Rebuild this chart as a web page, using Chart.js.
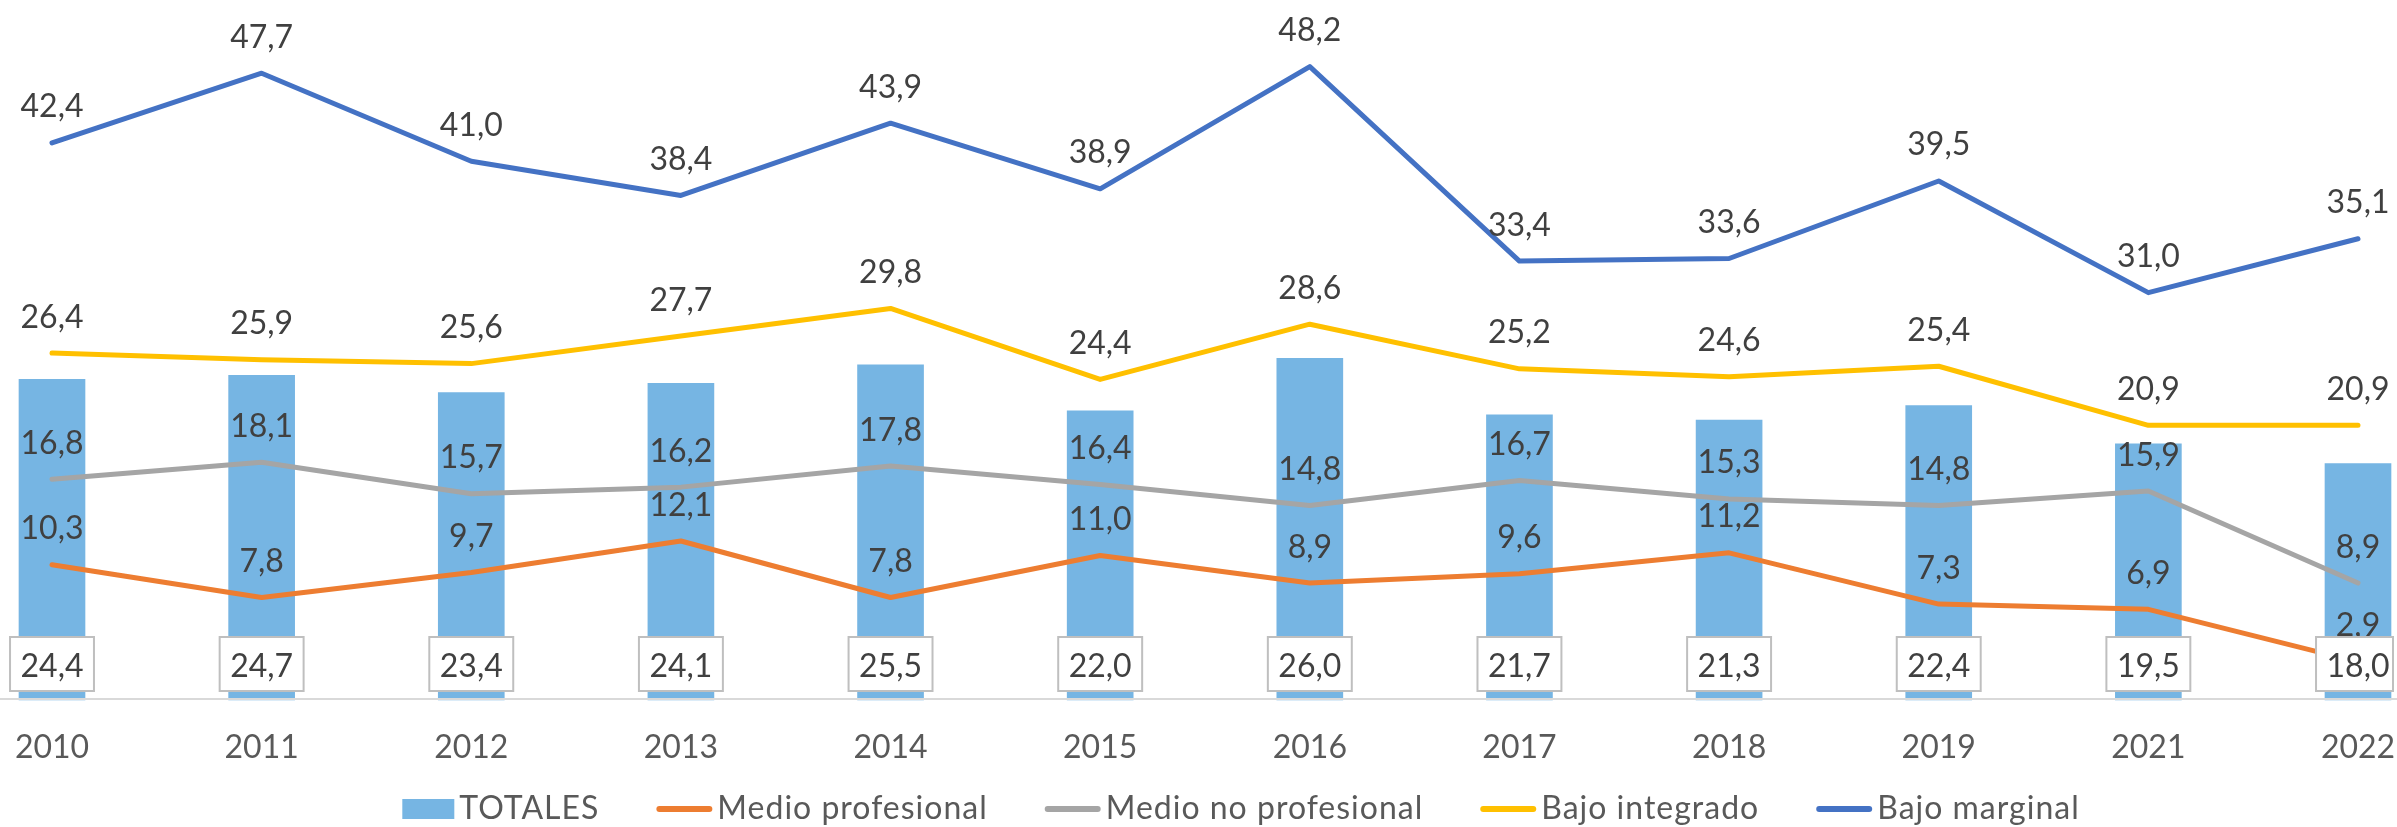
<!DOCTYPE html>
<html><head><meta charset="utf-8">
<script src="https://cdn.jsdelivr.net/npm/chart.js@4/dist/chart.umd.min.js"></script>
<style>html,body{margin:0;padding:0;background:#fff;} canvas{display:block;}</style>
</head><body>
<canvas id="c" width="2397" height="827"></canvas>
<script>
const categories = ['2010','2011','2012','2013','2014','2015','2016','2017','2018','2019','2021','2022'];
const totales = [24.4,24.7,23.4,24.1,25.5,22.0,26.0,21.7,21.3,22.4,19.5,18.0];
const medioProfesional = [10.3,7.8,9.7,12.1,7.8,11.0,8.9,9.6,11.2,7.3,6.9,2.9];
const medioNoProfesional = [16.8,18.1,15.7,16.2,17.8,16.4,14.8,16.7,15.3,14.8,15.9,8.9];
const bajoIntegrado = [26.4,25.9,25.6,27.7,29.8,24.4,28.6,25.2,24.6,25.4,20.9,20.9];
const bajoMarginal = [42.4,47.7,41.0,38.4,43.9,38.9,48.2,33.4,33.6,39.5,31.0,35.1];

const FONT = '32px Lato';
const fmt = v => v.toFixed(1).replace('.', ',');

function lineDs(label, data, color, order) {
  return { type: 'line', label, data, borderColor: color, backgroundColor: color,
    borderWidth: 5, pointRadius: 0, pointHoverRadius: 0, tension: 0, fill: false,
    borderCapStyle: 'round', borderJoinStyle: 'round', order, clip: false };
}

const overlay = {
  id: 'overlay',
  afterDatasetsDraw(chart) {
    const ctx = chart.ctx;
    const xs = chart.scales.x, ys = chart.scales.y;
    const base = ys.getPixelForValue(0);
    ctx.save();
    // category axis line
    ctx.strokeStyle = '#D9D9D9'; ctx.lineWidth = 2;
    ctx.beginPath(); ctx.moveTo(0, base - 1); ctx.lineTo(chart.width, base - 1); ctx.stroke();

    ctx.font = FONT;
    ctx.textAlign = 'center';
    ctx.textBaseline = 'alphabetic';
    // line labels
    chart.data.datasets.forEach((ds, i) => {
      if (ds.type !== 'line') return;
      const meta = chart.getDatasetMeta(i);
      meta.data.forEach((pt, j) => {
        ctx.fillStyle = '#404040';
        ctx.fillText(fmt(ds.data[j]), pt.x, pt.y - 25.5);
      });
    });
    // bar labels in boxes at base
    chart.data.datasets.forEach((ds, i) => {
      if (ds.type !== 'bar') return;
      const meta = chart.getDatasetMeta(i);
      meta.data.forEach((bar, j) => {
        const txt = fmt(ds.data[j]);
        const w = ctx.measureText(txt).width + 21;
        let left = bar.x - w / 2, right = bar.x + w / 2;
        if (right > chart.width - 4) right = chart.width - 4;
        const top = base - 63, h = 54;
        ctx.fillStyle = '#FFFFFF';
        ctx.fillRect(left, top, right - left, h);
        ctx.strokeStyle = '#BFBFBF'; ctx.lineWidth = 2;
        ctx.strokeRect(left, top, right - left, h);
        ctx.fillStyle = '#404040';
        ctx.fillText(txt, bar.x, base - 23);
      });
    });
    // category tick labels
    ctx.fillStyle = '#595959';
    chart.data.labels.forEach((lab, j) => {
      ctx.fillText(lab, xs.getPixelForValue(j), 758);
    });
    // legend
    ctx.letterSpacing = '1px';
    const items = chart.data.datasets.map(ds => ({
      text: ds.label, color: ds.type === 'bar' ? ds.backgroundColor : ds.borderColor,
      kind: ds.type, tw: ctx.measureText(ds.label).width
    }));
    const symW = it => it.kind === 'bar' ? 52 : 56;
    const gapSym = 5, gapItem = 57;
    let total = 0;
    items.forEach((it, k) => { total += symW(it) + gapSym + it.tw + (k < items.length - 1 ? gapItem : 0); });
    let x = 1241 - total / 2;
    const cy = 809;
    ctx.textAlign = 'left';
    items.forEach(it => {
      if (it.kind === 'bar') {
        ctx.fillStyle = it.color;
        ctx.fillRect(x, cy - 10, 52, 20);
      } else {
        ctx.strokeStyle = it.color; ctx.lineWidth = 6; ctx.lineCap = 'round';
        ctx.beginPath(); ctx.moveTo(x + 3, cy); ctx.lineTo(x + 53, cy); ctx.stroke();
      }
      x += symW(it) + gapSym;
      ctx.fillStyle = '#595959';
      ctx.fillText(it.text, x, 819);
      x += it.tw + gapItem;
    });
    ctx.restore();
  }
};

new Chart(document.getElementById('c'), {
  type: 'bar',
  data: {
    labels: categories,
    datasets: [
      { type: 'bar', label: 'TOTALES', data: totales, backgroundColor: '#76B5E3',
        barThickness: 66, order: 10, clip: false },
      lineDs('Medio profesional', medioProfesional, '#ED7D31', 4),
      lineDs('Medio no profesional', medioNoProfesional, '#A5A5A5', 3),
      lineDs('Bajo integrado', bajoIntegrado, '#FFC000', 2),
      lineDs('Bajo marginal', bajoMarginal, '#4472C4', 1)
    ]
  },
  options: {
    responsive: false,
    animation: false,
    devicePixelRatio: 1,
    layout: { padding: { left: 52, right: 39, top: 43, bottom: 127 } },
    plugins: { legend: { display: false }, tooltip: { enabled: false } },
    scales: {
      x: { type: 'category', offset: false, display: false, grid: { display: false } },
      y: { min: 0, max: 50, display: false }
    }
  },
  plugins: [overlay]
});
</script>
</body></html>
